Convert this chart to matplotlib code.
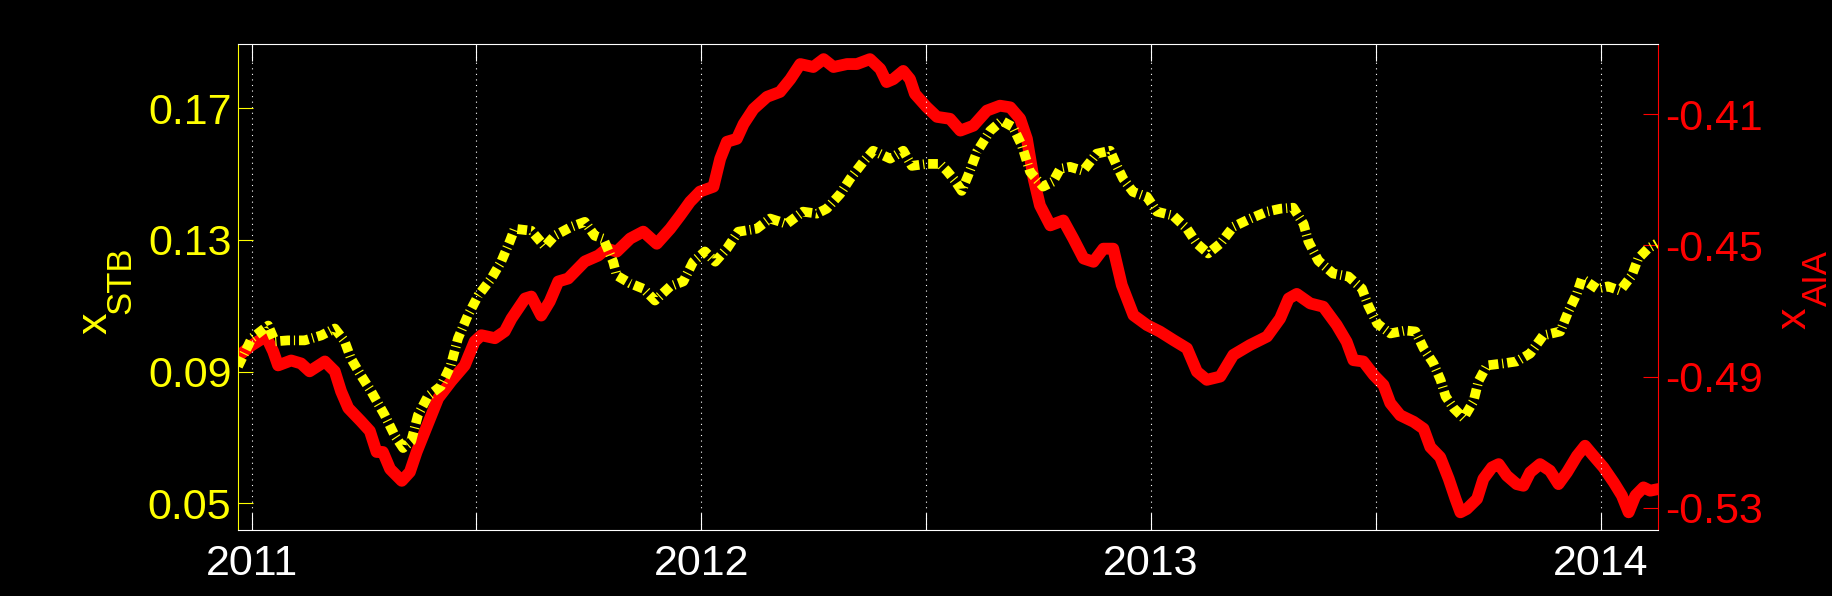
import matplotlib
matplotlib.use('Agg')
import matplotlib.pyplot as plt

# ---------------- data ----------------
stb_years = [2010.970, 2011.000, 2011.037, 2011.052, 2011.081, 2011.118, 2011.155, 2011.185,
             2011.207, 2011.221, 2011.243, 2011.266, 2011.296, 2011.318, 2011.337, 2011.355,
             2011.370, 2011.392, 2011.421, 2011.443, 2011.459, 2011.481, 2011.504, 2011.533,
             2011.555, 2011.574, 2011.585, 2011.622, 2011.652, 2011.674, 2011.711, 2011.741,
             2011.763, 2011.782, 2011.804, 2011.812, 2011.842, 2011.871, 2011.897, 2011.931,
             2011.960, 2011.982, 2012.008, 2012.031, 2012.057, 2012.082, 2012.123, 2012.153,
             2012.190, 2012.226, 2012.257, 2012.279, 2012.309, 2012.331, 2012.360, 2012.382,
             2012.420, 2012.449, 2012.468, 2012.501, 2012.531, 2012.546, 2012.564, 2012.579,
             2012.593, 2012.613, 2012.642, 2012.668, 2012.693, 2012.713, 2012.731, 2012.760,
             2012.782, 2012.798, 2012.820, 2012.849, 2012.879, 2012.909, 2012.924, 2012.938,
             2012.960, 2012.991, 2013.013, 2013.049, 2013.080, 2013.102, 2013.127, 2013.154,
             2013.183, 2013.221, 2013.258, 2013.288, 2013.316, 2013.339, 2013.350, 2013.372,
             2013.405, 2013.439, 2013.469, 2013.483, 2013.503, 2013.532, 2013.566, 2013.588,
             2013.606, 2013.628, 2013.644, 2013.655, 2013.673, 2013.695, 2013.717, 2013.728,
             2013.747, 2013.783, 2013.813, 2013.843, 2013.872, 2013.910, 2013.928, 2013.947,
             2013.958, 2013.992, 2014.016, 2014.043, 2014.069, 2014.083, 2014.105, 2014.124]
stb_values = [0.0916, 0.1001, 0.1040, 0.0992, 0.0995, 0.0995, 0.1010, 0.1031,
              0.0992, 0.0940, 0.0889, 0.0840, 0.0768, 0.0707, 0.0668, 0.0689,
              0.0768, 0.0825, 0.0856, 0.0919, 0.1001, 0.1071, 0.1131, 0.1183,
              0.1234, 0.1295, 0.1334, 0.1328, 0.1280, 0.1313, 0.1340, 0.1355,
              0.1313, 0.1304, 0.1234, 0.1192, 0.1168, 0.1152, 0.1116, 0.1159,
              0.1174, 0.1234, 0.1265, 0.1234, 0.1274, 0.1325, 0.1334, 0.1365,
              0.1349, 0.1386, 0.1380, 0.1395, 0.1440, 0.1486, 0.1537, 0.1571,
              0.1547, 0.1571, 0.1525, 0.1531, 0.1531, 0.1510, 0.1480, 0.1449,
              0.1495, 0.1568, 0.1631, 0.1662, 0.1643, 0.1586, 0.1507, 0.1462,
              0.1477, 0.1516, 0.1522, 0.1510, 0.1562, 0.1571, 0.1525, 0.1486,
              0.1446, 0.1431, 0.1386, 0.1374, 0.1334, 0.1289, 0.1259, 0.1289,
              0.1340, 0.1365, 0.1386, 0.1395, 0.1398, 0.1349, 0.1295, 0.1237,
              0.1198, 0.1189, 0.1152, 0.1101, 0.1046, 0.1016, 0.1025, 0.1022,
              0.0971, 0.0925, 0.0874, 0.0825, 0.0789, 0.0759, 0.0810, 0.0871,
              0.0919, 0.0925, 0.0931, 0.0955, 0.1010, 0.1022, 0.1083, 0.1137,
              0.1183, 0.1152, 0.1159, 0.1146, 0.1192, 0.1243, 0.1274, 0.1289]

aia_years = [2010.970, 2011.000, 2011.032, 2011.048, 2011.059, 2011.088, 2011.110, 2011.129,
             2011.163, 2011.185, 2011.199, 2011.215, 2011.243, 2011.263, 2011.278, 2011.292,
             2011.308, 2011.334, 2011.352, 2011.367, 2011.390, 2011.415, 2011.444, 2011.474,
             2011.496, 2011.511, 2011.541, 2011.563, 2011.578, 2011.608, 2011.622, 2011.644,
             2011.663, 2011.682, 2011.704, 2011.719, 2011.741, 2011.771, 2011.790, 2011.812,
             2011.842, 2011.871, 2011.901, 2011.931, 2011.953, 2011.975, 2011.997, 2012.027,
             2012.042, 2012.057, 2012.079, 2012.094, 2012.116, 2012.146, 2012.175, 2012.198,
             2012.220, 2012.249, 2012.272, 2012.294, 2012.324, 2012.346, 2012.375, 2012.398,
             2012.412, 2012.427, 2012.449, 2012.464, 2012.475, 2012.501, 2012.524, 2012.553,
             2012.576, 2012.605, 2012.635, 2012.664, 2012.687, 2012.709, 2012.724, 2012.739,
             2012.753, 2012.776, 2012.805, 2012.827, 2012.850, 2012.872, 2012.894, 2012.916,
             2012.935, 2012.961, 2012.991, 2013.020, 2013.050, 2013.080, 2013.102, 2013.124,
             2013.154, 2013.183, 2013.220, 2013.258, 2013.287, 2013.306, 2013.324, 2013.354,
             2013.383, 2013.413, 2013.435, 2013.450, 2013.472, 2013.495, 2013.517, 2013.532,
             2013.554, 2013.584, 2013.606, 2013.621, 2013.643, 2013.662, 2013.677, 2013.688,
             2013.702, 2013.725, 2013.739, 2013.758, 2013.773, 2013.791, 2013.813, 2013.828,
             2013.843, 2013.865, 2013.887, 2013.906, 2013.925, 2013.947, 2013.965, 2013.984,
             2014.006, 2014.029, 2014.047, 2014.062, 2014.077, 2014.095, 2014.110, 2014.128]
aia_values = [-0.4838, -0.4805, -0.4777, -0.4823, -0.4866, -0.4851, -0.4860, -0.4884,
              -0.4854, -0.4884, -0.4945, -0.4996, -0.5036, -0.5066, -0.5130, -0.5130,
              -0.5182, -0.5218, -0.5191, -0.5130, -0.5051, -0.4966, -0.4914, -0.4866,
              -0.4793, -0.4774, -0.4783, -0.4762, -0.4723, -0.4662, -0.4656, -0.4714,
              -0.4671, -0.4610, -0.4601, -0.4580, -0.4549, -0.4531, -0.4510, -0.4519,
              -0.4479, -0.4458, -0.4495, -0.4449, -0.4409, -0.4367, -0.4336, -0.4321,
              -0.4236, -0.4184, -0.4175, -0.4130, -0.4084, -0.4047, -0.4032, -0.3993,
              -0.3947, -0.3956, -0.3932, -0.3956, -0.3947, -0.3947, -0.3932, -0.3962,
              -0.4002, -0.3993, -0.3968, -0.3993, -0.4038, -0.4078, -0.4108, -0.4114,
              -0.4150, -0.4135, -0.4089, -0.4074, -0.4079, -0.4114, -0.4175, -0.4297,
              -0.4378, -0.4439, -0.4424, -0.4479, -0.4540, -0.4550, -0.4510, -0.4510,
              -0.4621, -0.4713, -0.4743, -0.4763, -0.4789, -0.4814, -0.4885, -0.4910,
              -0.4900, -0.4834, -0.4804, -0.4778, -0.4723, -0.4662, -0.4648, -0.4677,
              -0.4687, -0.4743, -0.4794, -0.4850, -0.4854, -0.4895, -0.4926, -0.4981,
              -0.5018, -0.5038, -0.5059, -0.5115, -0.5146, -0.5212, -0.5273, -0.5314,
              -0.5304, -0.5273, -0.5212, -0.5177, -0.5167, -0.5202, -0.5228, -0.5233,
              -0.5192, -0.5167, -0.5187, -0.5228, -0.5192, -0.5142, -0.5111, -0.5142,
              -0.5177, -0.5223, -0.5263, -0.5314, -0.5263, -0.5238, -0.5248, -0.5243]

x_ticks = [2011.0, 2011.5, 2012.0, 2012.5, 2013.0, 2013.5, 2014.0]
x_tick_labels = ['2011', '', '2012', '', '2013', '', '2014']
stb_ticks = [0.05, 0.09, 0.13, 0.17]
aia_ticks = [-0.53, -0.49, -0.45, -0.41]
stb_label = ('x', 'STB')
aia_label = ('x', 'AIA')

# ---------------- style ----------------
plt.rcParams['font.family'] = ['Liberation Sans', 'DejaVu Sans']
plt.rcParams['axes.unicode_minus'] = False

FS = 31
SUB_FS = 25
SPINE_W = 0.8
YEL = '#ffff00'
RED = '#ff0000'

fig = plt.figure(figsize=(18.32, 5.96), dpi=100, facecolor='black')
ax1 = fig.add_axes([0.1301, 0.1107, 0.7751, 0.8154])
ax2 = ax1.twinx()

ax2.set_zorder(1)
ax1.set_zorder(2)
ax1.patch.set_visible(False)
ax2.patch.set_facecolor('black')

# red curve (right axis)
ax2.plot(aia_years, aia_values, color=RED, linewidth=8.5,
         solid_joinstyle='round', solid_capstyle='round')
# yellow curve (left axis), thick dash-dot
ax1.plot(stb_years, stb_values, color=YEL, linewidth=7,
         linestyle=(0, (1.0, 0.4, 0.12, 0.4)), dash_capstyle='butt')

ax1.set_xlim(2010.9706, 2014.128)
ax1.set_ylim(0.0419, 0.1895)
ax2.set_ylim(-0.5368, -0.3886)

ax1.set_xticks(x_ticks)
ax1.set_xticklabels(x_tick_labels)
ax1.set_yticks(stb_ticks)
ax1.set_yticklabels(['%.2f' % v for v in stb_ticks])
ax2.set_yticks(aia_ticks)
ax2.set_yticklabels(['%.2f' % v for v in aia_ticks])

ax1.tick_params(axis='x', direction='in', top=True, bottom=True, length=12,
                width=SPINE_W, color='white', labelcolor='white', labelsize=FS, pad=10)
ax1.tick_params(axis='y', direction='in', left=True, right=False, length=11,
                width=SPINE_W, color=YEL, labelcolor=YEL, labelsize=FS, pad=5)
ax2.tick_params(axis='y', direction='in', left=False, right=True, length=11,
                width=SPINE_W, color=RED, labelcolor=RED, labelsize=FS, pad=5)

ax1.grid(axis='x', color='white', linestyle=(0, (1, 4)), linewidth=SPINE_W)
ax1.set_axisbelow(True)

for side in ['top', 'bottom']:
    ax1.spines[side].set_color('white')
    ax1.spines[side].set_linewidth(SPINE_W)
ax1.spines['left'].set_color(YEL)
ax1.spines['left'].set_linewidth(SPINE_W)
ax1.spines['right'].set_visible(False)
for side in ['top', 'bottom', 'left']:
    ax2.spines[side].set_visible(False)
ax2.spines['right'].set_color(RED)
ax2.spines['right'].set_linewidth(SPINE_W)

# axis labels: main letter + lowered subscript, rotated
def vlabel(xf, yf, xs, ys, parts, color):
    fig.text(xf, yf, parts[0], color=color, fontsize=FS, rotation=90,
             rotation_mode='anchor', ha='left', va='baseline')
    fig.text(xs, ys, parts[1], color=color, fontsize=SUB_FS, rotation=90,
             rotation_mode='anchor', ha='left', va='baseline')

vlabel(0.0584, 0.4396, 0.0710, 0.4732, stb_label, YEL)
vlabel(0.9853, 0.4480, 0.9973, 0.4866, aia_label, RED)

fig.savefig('out.png', dpi=100, facecolor='black')
